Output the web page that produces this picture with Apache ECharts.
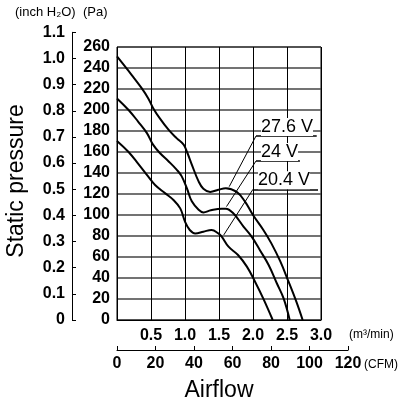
<!DOCTYPE html>
<html>
<head>
<meta charset="utf-8">
<title>Fan P-Q curve</title>
<script src="https://cdn.jsdelivr.net/npm/echarts@6/dist/echarts.min.js"></script>
<style>
  html, body { margin: 0; padding: 0; background: #fff; }
  #main { width: 409px; height: 401px; }
</style>
</head>
<body>
<div id="main"></div>
<script>
// values (airflow in m3/min, static pressure in Pa)
var flow276 = [0, 0.22, 0.36, 0.46, 0.53, 0.63, 0.76, 0.88, 0.98, 1.03, 1.1, 1.2, 1.27, 1.37, 1.49, 1.6, 1.76, 1.88, 2.0, 2.15, 2.27, 2.4, 2.52, 2.64, 2.73];
var pres276 = [251, 233, 221, 211, 202, 192, 181, 173, 167, 160, 148, 132, 125, 122, 124, 125.5, 122, 113, 100, 86, 73, 56, 37, 17, 0];

var flow24 = [0, 0.17, 0.31, 0.44, 0.53, 0.63, 0.76, 0.88, 0.95, 1.03, 1.1, 1.2, 1.27, 1.38, 1.54, 1.6, 1.71, 1.86, 1.98, 2.1, 2.23, 2.35, 2.45, 2.54];
var pres24 = [211, 200, 189, 178, 167, 159, 151, 143, 137, 125, 113, 105, 102.5, 104.5, 106, 106, 101.6, 89, 79.4, 66.7, 52.4, 35, 20.6, 0];

var flow204 = [0, 0.17, 0.31, 0.46, 0.56, 0.71, 0.83, 0.93, 1.0, 1.07, 1.15, 1.27, 1.39, 1.49, 1.54, 1.64, 1.78, 1.91, 2.03, 2.15, 2.29];
var pres204 = [170.5, 160, 149, 136.5, 128.6, 120.6, 114.3, 106.3, 93.7, 85.7, 82.5, 84.1, 85.7, 82.5, 79.4, 69.8, 61.9, 50.8, 36.5, 20.6, 0];

var voltages = ['27.6 V', '24 V', '20.4 V'];

var PA_PER_INCH = 249.089;
var CFM_PER_M3 = 35.3147;

var numFont = "'Liberation Sans', Arial, sans-serif";
var textFont = "'Liberation Sans', Arial, sans-serif";

function pairs(xs, ys) {
    return xs.map(function (x, i) { return [x, ys[i]]; });
}

// underline + leader arrow in data units
function callout(text, y, x0, x1, tip) {
    return {
        silent: true,
        animation: false,
        symbol: ['none', 'arrow'],
        symbolSize: [0, 7],
        lineStyle: { color: '#000', width: 1, type: 'solid' },
        data: [
            [
                {
                    coord: [x0, y], symbol: 'none',
                    lineStyle: { width: 1.5 },
                    label: {
                        show: true, formatter: text, position: 'insideStartTop',
                        distance: [5, 0], color: '#000', fontFamily: textFont,
                        fontSize: 18, backgroundColor: '#fff'
                    }
                },
                { coord: [x1, y], symbol: 'none' }
            ],
            [
                { coord: [x0, y], label: { show: false } },
                { coord: tip }
            ]
        ]
    };
}

var chart = echarts.init(document.getElementById('main'));

var pqPlotH = 273;                       // 0..260 Pa
var inchTop = 320 - 1.1 * PA_PER_INCH * pqPlotH / 260;
var cfmWidth = 120 / (3 * CFM_PER_M3) * 204;

var numLabel = { color: '#000', fontFamily: numFont, fontWeight: 'bold', fontSize: 16 };

var curveStyle = { color: '#000', width: 2 };

var option = {
    animation: false,
    grid: [
        { left: 117, top: 47, width: 204, height: pqPlotH, show: true, borderColor: '#000', borderWidth: 1 },
        { left: 117, top: 349, width: cfmWidth, height: 1 },
        { left: 72, top: inchTop, width: 1, height: 320 - inchTop }
    ],
    xAxis: [
        {
            gridIndex: 0, type: 'value', min: 0, max: 3, interval: 0.5,
            axisLine: { show: true, lineStyle: { color: '#000' } },
            axisTick: { show: false },
            splitLine: { show: true, lineStyle: { color: '#000', width: 1 } },
            axisLabel: Object.assign({
                margin: 8,
                formatter: function (v) { return v === 0 ? '' : v.toFixed(1); }
            }, numLabel)
        },
        {
            gridIndex: 1, type: 'value', min: 0, max: 120, interval: 20, position: 'bottom',
            axisLine: { show: true, lineStyle: { color: '#000' } },
            axisTick: { show: true, inside: true, length: 4, lineStyle: { color: '#000' } },
            splitLine: { show: false },
            axisLabel: Object.assign({ margin: 6 }, numLabel)
        },
        { gridIndex: 2, type: 'value', show: false, min: 0, max: 1 }
    ],
    yAxis: [
        {
            gridIndex: 0, type: 'value', min: 0, max: 260, interval: 20,
            axisLine: { show: false },
            axisTick: { show: false },
            splitLine: { show: true, lineStyle: { color: '#444', width: 1.5 } },
            axisLabel: Object.assign({ margin: 7 }, numLabel)
        },
        { gridIndex: 1, type: 'value', show: false, min: 0, max: 1 },
        {
            gridIndex: 2, type: 'value', min: 0, max: 1.1, interval: 0.1, position: 'left',
            axisLine: { show: true, lineStyle: { color: '#000' } },
            axisTick: { show: true, inside: true, length: 4, lineStyle: { color: '#000' } },
            splitLine: { show: false },
            axisLabel: Object.assign({
                margin: 7,
                formatter: function (v) { return v === 0 ? '0' : v.toFixed(1); }
            }, numLabel)
        }
    ],
    series: [
        {
            name: voltages[0], type: 'line', xAxisIndex: 0, yAxisIndex: 0,
            data: pairs(flow276, pres276), smooth: 0.4, showSymbol: false,
            lineStyle: curveStyle, z: 5,
            markLine: callout(voltages[0], 175.2, 2.044, 2.937, [1.65, 127])
        },
        {
            name: voltages[1], type: 'line', xAxisIndex: 0, yAxisIndex: 0,
            data: pairs(flow24, pres24), smooth: 0.4, showSymbol: false,
            lineStyle: curveStyle, z: 5,
            markLine: callout(voltages[1], 151.4, 2.044, 2.69, [1.61, 108])
        },
        {
            name: voltages[2], type: 'line', xAxisIndex: 0, yAxisIndex: 0,
            data: pairs(flow204, pres204), smooth: 0.4, showSymbol: false,
            lineStyle: curveStyle, z: 5,
            markLine: callout(voltages[2], 124.5, 2.0, 2.956, [1.57, 81])
        }
    ],
    graphic: [
        {
            type: 'text', x: 15, y: 12,
            style: { text: '(inch H\u2082O)', fontFamily: textFont, fontSize: 13, fill: '#000', textVerticalAlign: 'middle' }
        },
        {
            type: 'text', x: 83, y: 12,
            style: { text: '(Pa)', fontFamily: textFont, fontSize: 13, fill: '#000', textVerticalAlign: 'middle' }
        },
        {
            type: 'text', x: 349, y: 335,
            style: { text: '(m\u00b3/min)', fontFamily: textFont, fontSize: 12, fill: '#000', textVerticalAlign: 'middle' }
        },
        {
            type: 'text', x: 364, y: 365,
            style: { text: '(CFM)', fontFamily: textFont, fontSize: 12, fill: '#000', textVerticalAlign: 'middle' }
        },
        {
            type: 'text', x: 219, y: 391,
            style: { text: 'Airflow', fontFamily: textFont, fontSize: 23, fill: '#000', textAlign: 'center', textVerticalAlign: 'middle' }
        },
        {
            type: 'text', x: 17, y: 181, rotation: Math.PI / 2,
            style: { text: 'Static pressure', fontFamily: textFont, fontSize: 23, fill: '#000', textAlign: 'center', textVerticalAlign: 'middle' }
        }
    ]
};

chart.setOption(option);
</script>
</body>
</html>
